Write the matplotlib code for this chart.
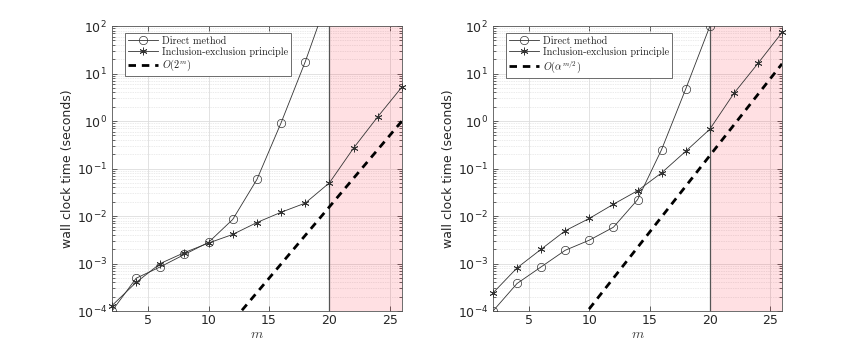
import matplotlib
matplotlib.use('Agg')
import matplotlib.pyplot as plt
from matplotlib.ticker import FixedLocator, NullFormatter

# problem size
m = [2, 4, 6, 8, 10, 12, 14, 16, 18, 20, 22, 24, 26]

# left panel timings (seconds)
left_direct_m = [2, 4, 6, 8, 10, 12, 14, 16, 18, 20]
left_direct = [1.0e-4, 4.9e-4, 8.5e-4, 1.55e-3, 2.8e-3, 8.5e-3, 0.059, 0.92, 17.8, 480]
left_incl = [1.3e-4, 4.0e-4, 1.0e-3, 1.7e-3, 2.7e-3, 4.1e-3, 7.3e-3, 0.012, 0.0187,
             0.050, 0.27, 1.23, 5.2]
left_ref_m = [2, 26]
left_ref = [6.0e-8, 1.0]

# right panel timings (seconds)
right_direct_m = [2, 4, 6, 8, 10, 12, 14, 16, 18, 20]
right_direct = [1.0e-4, 3.8e-4, 8.5e-4, 1.9e-3, 3.1e-3, 5.8e-3, 0.022, 0.25, 4.7, 98]
right_incl = [2.4e-4, 8.1e-4, 2.0e-3, 4.9e-3, 8.9e-3, 0.0177, 0.034, 0.081, 0.23,
              0.67, 3.8, 16.3, 73]
right_ref_m = [2, 26]
right_ref = [2.95e-7, 16.0]

ref_labels = [r'$O(2^m)$', r'$O(\alpha^{m/2})$']
shade_start = 20
y_major = [1e-4, 1e-3, 1e-2, 1e-1, 1e0, 1e1, 1e2]

fig = plt.figure(figsize=(8.64, 3.5), dpi=100)
ax_left = fig.add_axes([0.1296, 0.1114, 0.3356, 0.8143])
ax_right = fig.add_axes([0.5706, 0.1114, 0.3345, 0.8143])

panels = [
    (ax_left, left_direct_m, left_direct, left_incl, left_ref_m, left_ref, ref_labels[0]),
    (ax_right, right_direct_m, right_direct, right_incl, right_ref_m, right_ref, ref_labels[1]),
]

axis_gray = '#262626'
asterisk = (6, 2, 0)

for ax, dm, dv, iv, rm, rv, rlab in panels:
    ax.set_yscale('log')
    ax.set_xlim(2, 26)
    ax.set_ylim(1e-4, 1e2)

    # region beyond m = 20
    ax.axvspan(shade_start, 26, facecolor=(1.0, 0.0, 0.1), alpha=0.12,
               edgecolor='none', zorder=1)
    ax.axvline(shade_start, color='#555555', lw=0.9, zorder=1.5)

    ax.plot(dm, dv, '-', color='#333333', lw=0.6, marker='o', ms=6,
            mfc='none', mec='#333333', mew=0.5, label='Direct method', zorder=3)
    ax.plot(m, iv, '-', color='#333333', lw=0.6, marker=asterisk, ms=5.5,
            mec='#333333', mew=0.6, label='Inclusion-exclusion principle', zorder=3,
            clip_on=False)
    ax.plot(rm, rv, '--', color='black', lw=2.0, dashes=(2.7, 2.1), label=rlab,
            zorder=2)

    # grids: solid major, dotted minor on y
    minors = [k * d for d in y_major[:-1] for k in range(2, 10)]
    ax.yaxis.set_major_locator(FixedLocator(y_major))
    ax.yaxis.set_minor_locator(FixedLocator(minors))
    ax.yaxis.set_minor_formatter(NullFormatter())
    ax.set_xticks([5, 10, 15, 20, 25])
    ax.grid(True, which='major', color='#dddddd', lw=0.6, zorder=0)
    ax.grid(True, which='minor', axis='y', color='#d8d8d8', lw=0.5,
            linestyle=(0, (1, 1.5)), zorder=0)
    ax.set_axisbelow(True)

    ax.tick_params(which='both', direction='in', top=True, right=True,
                   colors=axis_gray, labelsize=9, width=0.5)
    ax.tick_params(which='major', length=3.5)
    ax.tick_params(which='minor', length=2)
    ax.tick_params(axis='x', pad=2.5)
    for sp in ax.spines.values():
        sp.set_color('#555555')
        sp.set_linewidth(0.6)

    ax.set_ylabel('wall clock time (seconds)', fontsize=9, color=axis_gray,
                  labelpad=2)
    xl = ax.set_xlabel('$m$', fontsize=10, color='#444444', labelpad=0)
    xl.set_math_fontfamily('cm')

    leg = ax.legend(loc='upper left', bbox_to_anchor=(0.045, 0.975),
                    prop={'family': 'cmr10', 'size': 7.3}, fancybox=False,
                    edgecolor='#555555', framealpha=1, handlelength=3.0,
                    handletextpad=0.35, borderpad=0.3, labelspacing=0.12,
                    borderaxespad=0)
    leg.get_frame().set_linewidth(0.6)
    for t in leg.get_texts():
        t.set_math_fontfamily('cm')
        t.set_color('#222222')

fig.savefig('out.png', dpi=100)
